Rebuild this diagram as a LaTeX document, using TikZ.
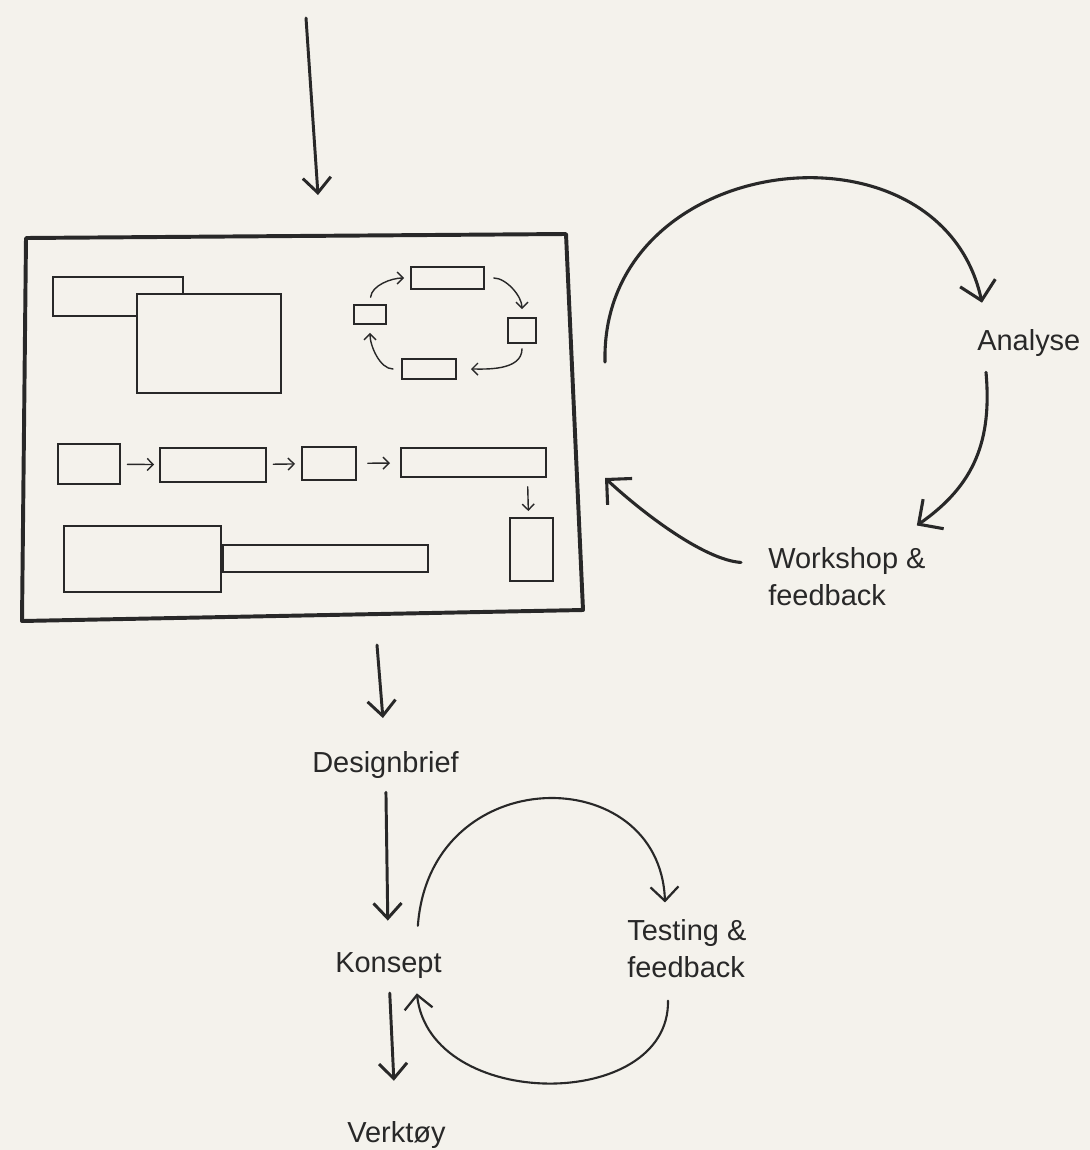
\documentclass[tikz,border=0pt]{standalone}
\usepackage{fontspec}
\setmainfont{Liberation Sans}
\usepackage{tikz}
\usetikzlibrary{positioning,arrows.meta,calc}
\definecolor{Paper}{RGB}{244,242,236}
\definecolor{Ink}{RGB}{40,40,40}

\begin{document}
\begin{tikzpicture}[
  x=0.025cm, y=0.025cm,
  font=\fontsize{20.6}{25.8}\selectfont,
  lbl/.style={
    inner sep=0pt, anchor=base west, align=left, text=Ink
  },
  blk/.style={
    rectangle, draw=Ink, line width=1.4pt, fill=Paper, inner sep=0pt
  },
  flow/.style={
    draw=Ink, line width=2.1pt, line cap=round,
    -{Straight Barb[length=0.38cm, width=0.7cm, line width=2.1pt]}
  },
  loopbig/.style={
    draw=Ink, line width=2.2pt, line cap=round,
    -{Straight Barb[length=0.45cm, width=0.9cm, line width=2.2pt]}
  },
  loopsmall/.style={
    draw=Ink, line width=1.5pt, line cap=round,
    -{Straight Barb[length=0.35cm, width=0.7cm, line width=1.6pt]}
  },
  tiny/.style={
    draw=Ink, line width=1pt, line cap=round,
    -{Straight Barb[length=0.15cm, width=0.3cm, line width=1pt]}
  }
]
\fill[Paper] (0,0) rectangle (1090,-1150);
\useasboundingbox (0,0) rectangle (1090,-1150);

% --- ENTRY ARROW ---
\coordinate (start) at (306,-18);
\coordinate (enter) at (318,-195);
\draw[flow] (start) -- (enter);

% --- FRAME ---
\coordinate (f1) at (26,-238);
\coordinate (f2) at (566,-234);
\coordinate (f3) at (583,-610);
\coordinate (f4) at (22,-621);
\draw[Ink, line width=2.8pt, line join=round] (f1) -- (f2) -- (f3) -- (f4) -- cycle;
\coordinate (fe) at (605,-362);
\coordinate (fe2) at (605,-478);
\coordinate (fb) at (377,-645);

% overlapping boxes
\node[blk, minimum width=3.25cm, minimum height=0.975cm] (a1) at (118,-296.5) {};
\node[blk, minimum width=3.6cm, minimum height=2.475cm] (a2) at (209,-343.5) {};

% small cycle
\node[blk, minimum width=1.825cm, minimum height=0.55cm] (c1) at (447.5,-278) {};
\node[blk, minimum width=0.7cm, minimum height=0.625cm] (c2) at (522,-330.5) {};
\node[blk, minimum width=1.35cm, minimum height=0.5cm] (c3) at (429,-369) {};
\node[blk, minimum width=0.8cm, minimum height=0.475cm] (c4) at (370,-314.5) {};
\draw[tiny, shorten <=0.17cm, shorten >=0.15cm] (c4.north) to[out=85, in=180] (c1.west);
\draw[tiny, shorten <=0.22cm, shorten >=0.2cm] (c1.east) to[out=0, in=90] (c2.north);
\draw[tiny, shorten <=0.12cm, shorten >=0.35cm] (c2.south) to[out=-90, in=0] (c3.east);
\draw[tiny, shorten <=0.2cm, shorten >=0.2cm] (c3.west) to[out=180, in=-90] (c4.south);

% process row
\node[blk, minimum width=1.55cm, minimum height=1.0cm] (r1) at (89,-464) {};
\node[blk, minimum width=2.65cm, minimum height=0.85cm] (r2) at (213,-465) {};
\node[blk, minimum width=1.35cm, minimum height=0.825cm] (r3) at (329,-463.5) {};
\node[blk, minimum width=3.625cm, minimum height=0.725cm] (r4) at (473.5,-462.5) {};
\node[blk, minimum width=1.075cm, minimum height=1.575cm] (r5) at (531.5,-549.5) {};
\draw[tiny, shorten <=0.16cm, shorten >=0.12cm] (r1) -- (r2);
\draw[tiny, shorten <=0.16cm, shorten >=0.15cm] (r2) -- (r3);
\draw[tiny, shorten <=0.27cm, shorten >=0.25cm] (r3) -- (r4);
\draw[tiny, shorten <=0.22cm, shorten >=0.15cm] ($(r5.north |- r4.south)+(-4,0)$) -- ($(r5.north)+(-3,0)$);

% bottom row
\node[blk, minimum width=3.925cm, minimum height=1.65cm] (b1) at (142.5,-559) {};
\node[blk, minimum width=5.125cm, minimum height=0.675cm, anchor=west] (b2) at (b1.east |- 0,-558.5) {};

% --- LABELS ---
\node[lbl] (analyse) at (977,-350) {Analyse};
\node[lbl] (workshop) at (768,-605) {Workshop \&\\feedback};
\node[lbl] (designbrief) at (312,-772) {Designbrief};
\node[lbl] (konsept) at (335,-972) {Konsept};
\node[lbl] (testing) at (627,-977) {Testing \&\\feedback};
\node[lbl] (verktoy) at (347,-1142) {Verktøy};

% --- ANALYSIS LOOP ---
\draw[loopbig] (fe) .. controls (600,-150) and (940,-110) .. ($(analyse.north west)+(5,26)$);
\draw[loopbig] ($(analyse.south west)+(9,-16)$) .. controls (992,-440) and (975,-485) .. ($(workshop.north east)+(-9,22)$);
\draw[loopbig] ($(workshop.north west)+(-27,-15)$) .. controls (705,-560) and (645,-515) .. (fe2);

% --- MAIN FLOW ---
\draw[flow, shorten >=0.82cm] (fb) -- (designbrief.north);
\draw[flow, shorten <=0.35cm, shorten >=0.78cm] (designbrief) -- (konsept);
\draw[flow, shorten <=0.37cm, shorten >=1.0cm] (konsept) -- (verktoy);

% --- TESTING LOOP ---
\draw[loopsmall] ($(konsept.north east)+(-24,26)$) .. controls (430,-760) and (660,-760) .. ($(testing.north west)+(38,17)$);
\draw[loopsmall] ($(testing.south west)+(41,-23)$) .. controls (670,-1112) and (430,-1112) .. ($(konsept.south east)+(-25,-15)$);

\end{tikzpicture}
\end{document}
